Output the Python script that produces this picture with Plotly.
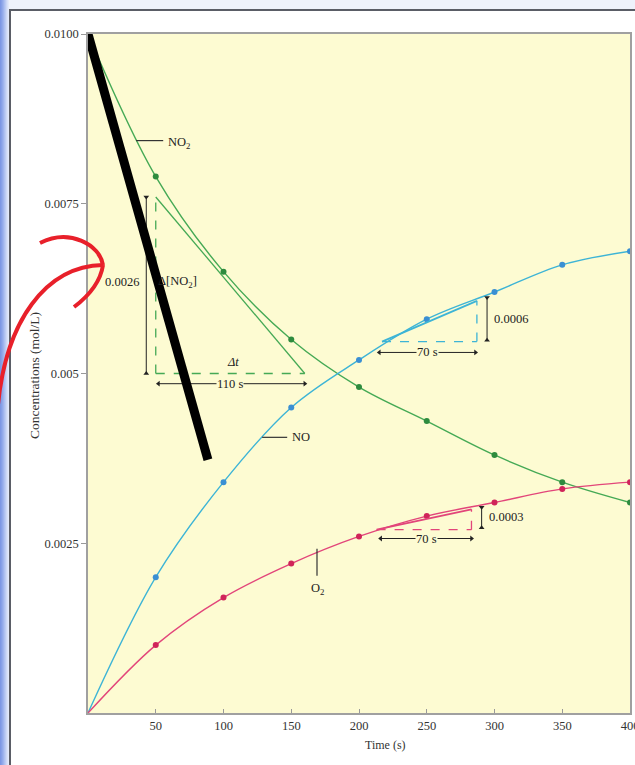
import plotly.graph_objects as go

# Concentration data for 2 NO2 -> 2 NO + O2
time_s = [0, 50, 100, 150, 200, 250, 300, 350, 400]
no2 = [0.0100, 0.0079, 0.0065, 0.0055, 0.0048, 0.0043, 0.0038, 0.0034, 0.0031]
no = [0.0, 0.0020, 0.0034, 0.0045, 0.0052, 0.0058, 0.0062, 0.0066, 0.0068]
o2 = [0.0, 0.0010, 0.0017, 0.0022, 0.0026, 0.0029, 0.0031, 0.0033, 0.0034]

x_ticks = [50, 100, 150, 200, 250, 300, 350, 400]
y_ticks = [0.0025, 0.005, 0.0075, 0.0100]
y_tick_text = ["0.0025", "0.005", "0.0075", "0.0100"]

# Rate triangles: (start time, span in s, base concentration, change)
tri_no2 = (50, 110, 0.0050, 0.0026)
tri_no = (217, 70, 0.00547, 0.0006)
tri_o2 = (213, 70, 0.00270, 0.0003)

W, H = 635, 765
ML, MR, MT, MB = 88, 5, 34, 52
PW, PH = W - ML - MR, H - MT - MB

SERIF = "Liberation Serif, Times New Roman, serif"
GREEN_LINE, GREEN_PT = "#45a955", "#2e8b3e"
BLUE_LINE, BLUE_PT = "#3db4d6", "#3a8fd3"
RED_LINE, RED_PT = "#e2457a", "#d0245a"
PLOT_BG = "#fdfbd2"
INK = "#222"
FS = 12.5


def px(x, y):
    """Pixel position on the page -> paper coordinates."""
    return (x - ML) / PW, (H - MB - y) / PH


fig = go.Figure()

for vals, lc, pc in [(no2, GREEN_LINE, GREEN_PT), (no, BLUE_LINE, BLUE_PT), (o2, RED_LINE, RED_PT)]:
    fig.add_trace(go.Scatter(x=time_s, y=vals, mode="lines",
                             line=dict(color=lc, width=1.4, shape="spline", smoothing=1.0),
                             hoverinfo="skip", showlegend=False))
    fig.add_trace(go.Scatter(x=time_s[1:], y=vals[1:], mode="markers",
                             marker=dict(color=pc, size=6), showlegend=False))

shapes = []
annotations = []


def triangle(tri, color, decreasing):
    t0, dt, c0, dc = tri
    t1, c1 = t0 + dt, c0 + dc
    dash = dict(color=color, width=1.3, dash="dash")
    vx = t0 if decreasing else t1
    shapes.append(dict(type="line", x0=vx, y0=c0, x1=vx, y1=c1, line=dash))
    shapes.append(dict(type="line", x0=t0, y0=c0, x1=t1, y1=c0, line=dash))
    if decreasing:
        shapes.append(dict(type="line", x0=t0, y0=c1, x1=t1, y1=c0,
                           line=dict(color=color, width=1.3)))
    else:
        shapes.append(dict(type="line", x0=t0, y0=c0, x1=t1, y1=c1,
                           line=dict(color=color, width=1.8)))


def double_arrow(x0, y0, x1, y1):
    """Thin black measurement line with a head at both ends."""
    if x0 == x1:
        syms = ["triangle-down", "triangle-up"] if y0 > y1 else ["triangle-up", "triangle-down"]
    else:
        syms = ["triangle-left", "triangle-right"] if x0 < x1 else ["triangle-right", "triangle-left"]
    fig.add_trace(go.Scatter(x=[x0, x1], y=[y0, y1], mode="lines+markers",
                             line=dict(color=INK, width=1),
                             marker=dict(symbol=syms, size=5, color=INK),
                             hoverinfo="skip", showlegend=False))


def label(x, y, text, xanchor="center", size=FS, bg=None, italic=False):
    annotations.append(dict(x=x, y=y, xref="x", yref="y", text=text, showarrow=False,
                            xanchor=xanchor, yanchor="middle",
                            font=dict(family=SERIF, size=size, color=INK,
                                      style="italic" if italic else "normal"),
                            bgcolor=bg, borderpad=0))


# NO2 triangle and its labels
triangle(tri_no2, GREEN_LINE, True)
t0, dt, c0, dc = tri_no2
double_arrow(t0 - 7, c0 + dc, t0 - 7, c0)
label(t0 - 25, c0 + dc / 2 + 0.00005, f"{dc:.4f}")
label(t0 + 1, c0 + dc / 2 + 0.00005, "Δ[NO<sub>2</sub>]", xanchor="left")
label(t0 + 57, c0 + 0.00017, "Δt", italic=True)
double_arrow(t0 + 2, c0 - 0.00015, t0 + dt, c0 - 0.00015)
label(t0 + dt / 2, c0 - 0.00015, f"{dt} s", bg=PLOT_BG)

# NO triangle and its labels
triangle(tri_no, BLUE_LINE, False)
t0, dt, c0, dc = tri_no
double_arrow(t0 + dt + 7.5, c0 + dc + 0.00005, t0 + dt + 7.5, c0 + 0.00002)
label(t0 + dt + 12, c0 + dc / 2 + 0.00003, f"{dc:.4f}", xanchor="left")
double_arrow(t0 - 2, c0 - 0.00016, t0 + dt - 1, c0 - 0.00016)
label(t0 + dt / 2 - 1.5, c0 - 0.00016, f"{dt} s", bg=PLOT_BG)

# O2 triangle and its labels
triangle(tri_o2, RED_LINE, False)
t0, dt, c0, dc = tri_o2
double_arrow(t0 + dt + 7.5, c0 + dc + 0.00003, t0 + dt + 7.5, c0 + 0.00003)
label(t0 + dt + 12, c0 + dc / 2 + 0.00003, f"{dc:.4f}", xanchor="left")
double_arrow(t0 + 3, c0 - 0.00013, t0 + dt, c0 - 0.00013)
label(t0 + dt / 2 + 1.5, c0 - 0.00013, f"{dt} s", bg=PLOT_BG)

# Curve labels with leader lines
shapes.append(dict(type="line", x0=35.5, y0=0.00843, x1=55.5, y1=0.00843,
                   line=dict(color="#333", width=1.2)))
label(58, 0.00840, "NO<sub>2</sub>", xanchor="left")
shapes.append(dict(type="line", x0=128.5, y0=0.00406, x1=147, y1=0.00406,
                   line=dict(color="#333", width=1.2)))
label(149.5, 0.00406, "NO", xanchor="left")
shapes.append(dict(type="line", x0=169, y0=0.00242, x1=169, y1=0.00202,
                   line=dict(color="#333", width=1.2)))
label(169.5, 0.00182, "O<sub>2</sub>")

# Hand-drawn tangent stroke
shapes.append(dict(type="line", x0=0, y0=0.0100, x1=88.5, y1=0.00373,
                   line=dict(color="black", width=9)))


# Hand-drawn red curved arrow (page pixels converted to paper units)
def path_px(cmds):
    out = []
    for c in cmds:
        if isinstance(c, str):
            out.append(c)
        else:
            x, y = px(*c)
            out.append(f"{x:.4f},{y:.4f}")
    return " ".join(out)


red = dict(color="#e8202a", width=4)
shapes.append(dict(type="path", xref="paper", yref="paper", line=red,
                   path=path_px(["M", (-2, 405), "C", (6, 322), (45, 266), (103, 265)])))
shapes.append(dict(type="path", xref="paper", yref="paper", line=red,
                   path=path_px(["M", (40, 243), "C", (70, 228), (100, 245), (103, 265)])))
shapes.append(dict(type="path", xref="paper", yref="paper", line=red,
                   path=path_px(["M", (103, 265), "C", (100, 285), (86, 298), (74, 307)])))

# Page frame: blue slide edge and card border
blues = ["#7d97e4", "#86a0e7", "#92a9ea", "#9fb4ed", "#aec0f0", "#bccbf3", "#cbd7f6", "#d8e1f8", "#e3e9fa"]
for i, c in enumerate(blues):
    x0, _ = px(i, 0)
    x1, _ = px(i + 1.05, 0)
    _, y0 = px(0, H)
    _, y1 = px(0, 0)
    shapes.append(dict(type="rect", xref="paper", yref="paper", x0=x0, x1=x1, y0=y0, y1=y1,
                       line=dict(width=0), fillcolor=c, layer="below"))
xa, ya = px(9, 0)
xb, yb = px(W + 5, 9)
shapes.append(dict(type="rect", xref="paper", yref="paper", x0=xa, x1=xb, y0=yb, y1=ya,
                   line=dict(width=0), fillcolor="#eef2fb", layer="below"))
fx, fy = px(10, 10)
fx2, fy2 = px(W + 5, H + 5)
shapes.append(dict(type="rect", xref="paper", yref="paper", x0=fx, x1=fx2, y0=fy2, y1=fy,
                   line=dict(color="#5a5d66", width=2), fillcolor="rgba(0,0,0,0)",
                   layer="below"))

# Axis titles
annotations.append(dict(xref="paper", yref="paper", x=px(385, 0)[0], y=px(0, 745)[1],
                        xanchor="center", yanchor="middle",
                        text="Time (s)", showarrow=False,
                        font=dict(family=SERIF, size=12, color="#333")))
annotations.append(dict(xref="paper", yref="paper", x=px(34, 0)[0], y=px(0, 376)[1],
                        xanchor="center", yanchor="middle",
                        text="Concentrations (mol/L)", showarrow=False, textangle=-90,
                        font=dict(family=SERIF, size=13.5, color="#333")))

fig.update_layout(
    width=W, height=H,
    margin=dict(l=ML, r=MR, t=MT, b=MB, autoexpand=False),
    paper_bgcolor="white",
    plot_bgcolor=PLOT_BG,
    shapes=shapes,
    annotations=annotations,
    showlegend=False,
    xaxis=dict(range=[0, 400], tickvals=x_ticks, ticks="inside", ticklen=4,
               tickcolor="#999", showgrid=False, zeroline=False, showline=True,
               linecolor="#a0a0a0", linewidth=1.5, mirror=True,
               ticklabeloverflow="allow", automargin=False,
               tickfont=dict(family=SERIF, size=FS, color="#333")),
    yaxis=dict(range=[0, 0.0100], tickvals=y_ticks, ticktext=y_tick_text,
               ticks="outside", ticklen=5, tickcolor="#999", showgrid=False,
               zeroline=False, showline=True, linecolor="#a0a0a0", linewidth=1.5,
               mirror=True, automargin=False,
               tickfont=dict(family=SERIF, size=FS, color="#333")),
)

fig.write_html("out.html")
